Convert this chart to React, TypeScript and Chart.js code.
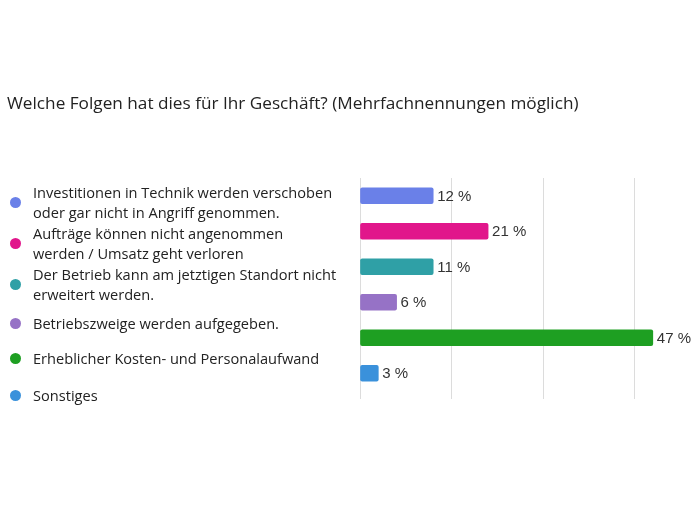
import React, { useEffect, useRef } from "react";
import { Chart, registerables } from "chart.js";

Chart.register(...registerables);

const TITLE = "Welche Folgen hat dies für Ihr Geschäft? (Mehrfachnennungen möglich)";
const categories = [
  ["Investitionen in Technik werden verschoben", "oder gar nicht in Angriff genommen."],
  ["Aufträge können nicht angenommen", "werden / Umsatz geht verloren"],
  ["Der Betrieb kann am jetztigen Standort nicht", "erweitert werden."],
  ["Betriebszweige werden aufgegeben."],
  ["Erheblicher Kosten- und Personalaufwand"],
  ["Sonstiges"],
];
const values = [12, 21, 12, 6, 48, 3];
const valueLabels = ["12 %", "21 %", "11 %", "6 %", "47 %", "3 %"];
const colors = ["#6a80e8", "#e1168b", "#2fa0a6", "#9672c6", "#1e9f22", "#3a91db"];
const xTicks = [0, 15, 30, 45];

const legendCenters = [202, 243, 284, 323, 358, 395];

const valueLabelPlugin = {
  id: "valueLabels",
  afterDatasetsDraw(chart: any) {
    const ctx = chart.ctx;
    const meta = chart.getDatasetMeta(0);
    ctx.save();
    ctx.font = "15px 'Liberation Sans', Arial, sans-serif";
    ctx.fillStyle = "#333";
    ctx.textBaseline = "middle";
    ctx.textAlign = "left";
    meta.data.forEach((bar: any, i: number) => {
      ctx.fillText(valueLabels[i], bar.x + 4, bar.y + 1);
    });
    ctx.restore();
  },
};

export default function App() {
  const ref = useRef<HTMLCanvasElement>(null);
  useEffect(() => {
    if (!ref.current) return;
    const chart = new Chart(ref.current, {
      type: "bar",
      data: {
        labels: categories.map((c) => c.join(" ")),
        datasets: [
          {
            data: values,
            backgroundColor: colors,
            borderColor: colors,
            borderWidth: 0,
            borderRadius: 2,
            borderSkipped: false,
            barThickness: 16,
          },
        ],
      },
      options: {
        indexAxis: "y",
        animation: false,
        responsive: false,
        maintainAspectRatio: false,
        layout: { padding: { left: 360, right: 35, top: 178, bottom: 126 } },
        plugins: { legend: { display: false }, tooltip: { enabled: false }, title: { display: false } },
        scales: {
          x: {
            min: 0,
            max: 50,
            afterBuildTicks: (axis: any) => {
              axis.ticks = xTicks.map((v) => ({ value: v }));
            },
            grid: { color: "#dcdcdc", drawTicks: true, tickLength: 8, lineWidth: 1 },
            border: { display: false },
            ticks: { display: false },
          },
          y: { display: false },
        },
      },
      plugins: [valueLabelPlugin],
    });
    return () => chart.destroy();
  }, []);

  return (
    <div style={{ position: "fixed", left: 0, top: 0, width: 700, height: 525, background: "#fff" }}>
      <canvas ref={ref} width={700} height={525} style={{ position: "absolute", left: 0, top: 0 }} />
      <div
        style={{
          position: "absolute",
          left: 7,
          top: 91,
          fontFamily: "'Open Sans', sans-serif",
          fontSize: 17.2,
          lineHeight: "24px",
          color: "#222",
          whiteSpace: "nowrap",
        }}
      >
        {TITLE}
      </div>
      {categories.map((lines, i) => (
        <div
          key={i}
          style={{
            position: "absolute",
            left: 0,
            top: legendCenters[i] - lines.length * 10,
            height: lines.length * 20,
            width: 350,
          }}
        >
          <span
            style={{
              position: "absolute",
              left: 10,
              top: lines.length * 10 - 5.5,
              width: 11,
              height: 11,
              borderRadius: "50%",
              background: colors[i],
            }}
          />
          <div
            style={{
              position: "absolute",
              left: 33,
              top: 0,
              fontFamily: "'Open Sans', sans-serif",
              fontSize: 14.6,
              lineHeight: "20px",
              color: "#222",
              whiteSpace: "nowrap",
            }}
          >
            {lines.map((l, j) => (
              <div key={j}>{l}</div>
            ))}
          </div>
        </div>
      ))}
    </div>
  );
}
